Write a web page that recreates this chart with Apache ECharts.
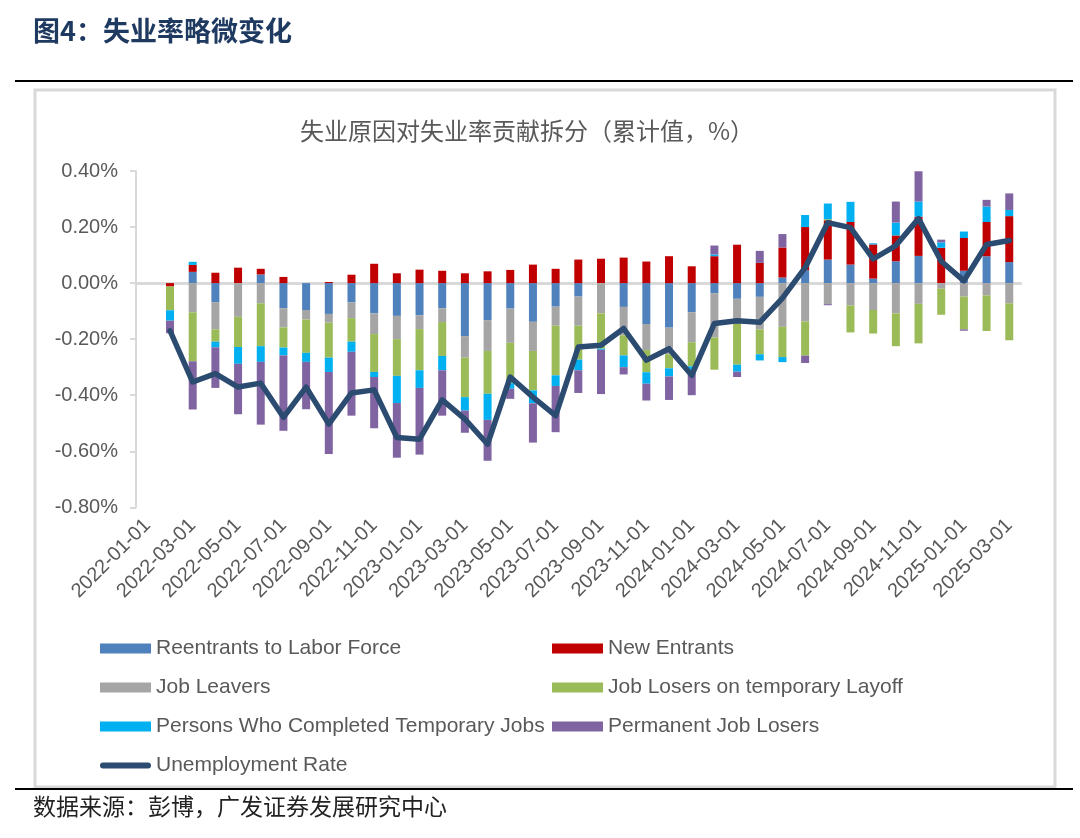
<!DOCTYPE html>
<html>
<head>
<meta charset="utf-8">
<script src="https://cdn.jsdelivr.net/npm/echarts/dist/echarts.min.js"></script>
<style>
html,body{margin:0;padding:0;background:#fff;}
#chart{width:1080px;height:838px;}
</style>
</head>
<body>
<div id="chart"></div>
<script>
const categories = ["2022-01-01","2022-02-01","2022-03-01","2022-04-01","2022-05-01","2022-06-01","2022-07-01","2022-08-01","2022-09-01","2022-10-01","2022-11-01","2022-12-01","2023-01-01","2023-02-01","2023-03-01","2023-04-01","2023-05-01","2023-06-01","2023-07-01","2023-08-01","2023-09-01","2023-10-01","2023-11-01","2023-12-01","2024-01-01","2024-02-01","2024-03-01","2024-04-01","2024-05-01","2024-06-01","2024-07-01","2024-08-01","2024-09-01","2024-10-01","2024-11-01","2024-12-01","2025-01-01","2025-02-01","2025-03-01"];

const reentrants = [null,0,0.040,-0.068,0,0.031,-0.090,-0.096,-0.110,-0.069,-0.108,-0.117,-0.115,-0.090,-0.189,-0.132,-0.091,-0.138,-0.084,-0.048,0,-0.085,-0.146,-0.159,-0.104,-0.036,-0.056,-0.049,0.020,0.046,0.084,0.066,0.016,0.078,0.097,0,0.044,0.096,0.075];
const newEntrants = [null,-0.012,0.025,0.037,0.055,0.020,0.022,0,0.004,0.030,0.069,0.035,0.048,0.044,0.035,0.042,0.047,0.066,0.051,0.084,0.087,0.091,0.077,0.096,0.060,0.096,0.137,0.072,0.107,0.154,0.140,0.152,0.122,0.092,0.140,0.126,0.117,0.122,0.164];
const jobLeavers = [null,0,-0.104,-0.097,-0.120,-0.072,-0.068,-0.034,-0.031,-0.056,-0.074,-0.083,-0.049,-0.049,-0.077,-0.110,-0.122,-0.104,-0.068,-0.104,-0.108,-0.101,-0.093,-0.095,-0.107,-0.158,-0.090,-0.116,-0.156,-0.137,-0.075,-0.080,-0.096,-0.108,-0.074,-0.020,-0.048,-0.044,-0.072];
const tempLayoff = [null,-0.085,-0.175,-0.044,-0.108,-0.153,-0.072,-0.119,-0.125,-0.084,-0.135,-0.131,-0.147,-0.121,-0.141,-0.153,-0.144,-0.141,-0.177,-0.121,-0.126,-0.072,-0.079,-0.050,-0.086,-0.115,-0.145,-0.089,-0.108,-0.122,0.004,-0.096,-0.084,-0.117,-0.141,-0.093,-0.117,-0.127,-0.132];
const completedTemp = [null,-0.037,0.011,-0.020,-0.060,-0.056,-0.028,-0.032,-0.051,-0.036,-0.018,-0.097,-0.063,-0.051,-0.048,-0.093,-0.020,-0.046,-0.038,-0.038,-0.004,-0.042,-0.041,-0.029,-0.012,0.006,-0.025,-0.022,-0.018,0.043,0.056,0.072,0.004,0.046,0.054,0.019,0.023,0.055,0.022];
const permanentLosers = [null,-0.045,-0.172,-0.145,-0.180,-0.224,-0.269,-0.169,-0.293,-0.228,-0.183,-0.195,-0.238,-0.162,-0.079,-0.146,-0.036,-0.140,-0.165,-0.081,-0.158,-0.026,-0.060,-0.084,-0.091,0.032,-0.019,0.043,0.048,-0.026,-0.004,0,0,0.075,0.108,0.010,-0.005,0.024,0.059];
const unemploymentRate = [null,-0.170,-0.353,-0.323,-0.371,-0.357,-0.479,-0.371,-0.503,-0.392,-0.381,-0.551,-0.557,-0.417,-0.485,-0.575,-0.335,-0.407,-0.473,-0.228,-0.222,-0.162,-0.275,-0.234,-0.329,-0.144,-0.134,-0.140,-0.054,0.055,0.216,0.198,0.086,0.134,0.230,0.078,0.008,0.138,0.152];

const yTicks = [-0.8,-0.6,-0.4,-0.2,0,0.2,0.4];

const chart = echarts.init(document.getElementById('chart'), null, {renderer:'canvas'});
const FONT = '"Liberation Sans", Arial, sans-serif';
const CJK = '"Noto Sans CJK SC", sans-serif';
const TXT = '#595959';
const LINE_ICON = 'path://M3,0 L48,0 A3,3 0 0 1 48,6 L3,6 A3,3 0 0 1 3,0 Z';

function bar(name, data, color){
  return {name, type:'bar', stack:'total', data, barWidth:8,
    itemStyle:{color}, emphasis:{disabled:true}};
}
const legendBase = {orient:'vertical', itemWidth:51, itemHeight:10, itemGap:18, padding:0,
  textStyle:{fontSize:21, lineHeight:21, color:TXT, fontFamily:FONT}};

chart.setOption({
  animation:false,
  backgroundColor:'#fff',
  graphic:[
    {type:'text', left:33, top:17, style:{text:'图4：失业率略微变化', font:'bold 27px ' + CJK, fill:'#1F3A60'}},
    {type:'line', shape:{x1:15,y1:81,x2:1073,y2:81}, style:{stroke:'#000', lineWidth:2}},
    {type:'rect', shape:{x:35,y:90,width:1020,height:697}, style:{fill:'none', stroke:'#d9d9d9', lineWidth:3}},
    {type:'text', left:300, top:119, style:{text:'失业原因对失业率贡献拆分（累计值，%）', font:'24px ' + CJK, fill:TXT}},
    {type:'line', shape:{x1:15,y1:789,x2:1073,y2:789}, style:{stroke:'#000', lineWidth:2}},
    {type:'text', left:33, top:795, style:{text:'数据来源：彭博，广发证券发展研究中心', font:'23px ' + CJK, fill:'#222'}}
  ],
  grid:{left:136, right:59.4, top:171, bottom:330.7, containLabel:false},
  legend:[
    Object.assign({}, legendBase, {left:100, top:638,
     data:[{name:'Reentrants to Labor Force', icon:'rect'},{name:'Job Leavers', icon:'rect'},
           {name:'Persons Who Completed Temporary Jobs', icon:'rect'},{name:'Unemployment Rate', icon:LINE_ICON}]}),
    Object.assign({}, legendBase, {left:552, top:638,
     data:[{name:'New Entrants', icon:'rect'},{name:'Job Losers on temporary Layoff', icon:'rect'},{name:'Permanent Job Losers', icon:'rect'}]})
  ],
  xAxis:{
    type:'category', data:categories, boundaryGap:true,
    axisLine:{onZero:true, lineStyle:{color:'#d9d9d9', width:3}},
    axisTick:{show:false},
    axisLabel:{interval:1, rotate:45, margin:15, fontSize:20, color:TXT, fontFamily:FONT}
  },
  yAxis:{
    type:'value', min:yTicks[0], max:yTicks[yTicks.length-1], interval:0.2,
    axisLine:{show:true, lineStyle:{color:'#d9d9d9', width:2}},
    axisTick:{show:true, length:6, lineStyle:{color:'#d9d9d9', width:2}},
    splitLine:{show:false},
    axisLabel:{margin:18, fontSize:20, color:TXT, fontFamily:FONT,
      formatter:v => v.toFixed(2) + '%'}
  },
  series:[
    bar('Reentrants to Labor Force', reentrants, '#4F81BD'),
    bar('New Entrants', newEntrants, '#C00000'),
    bar('Job Leavers', jobLeavers, '#A5A5A5'),
    bar('Job Losers on temporary Layoff', tempLayoff, '#9BBB59'),
    bar('Persons Who Completed Temporary Jobs', completedTemp, '#00B0F0'),
    bar('Permanent Job Losers', permanentLosers, '#8064A2'),
    {name:'Unemployment Rate', type:'line', data:unemploymentRate, symbol:'none', z:10,
     lineStyle:{color:'#2C4B70', width:5.5, cap:'round', join:'round'},
     itemStyle:{color:'#2C4B70'}, emphasis:{disabled:true}}
  ]
});
</script>
</body>
</html>
